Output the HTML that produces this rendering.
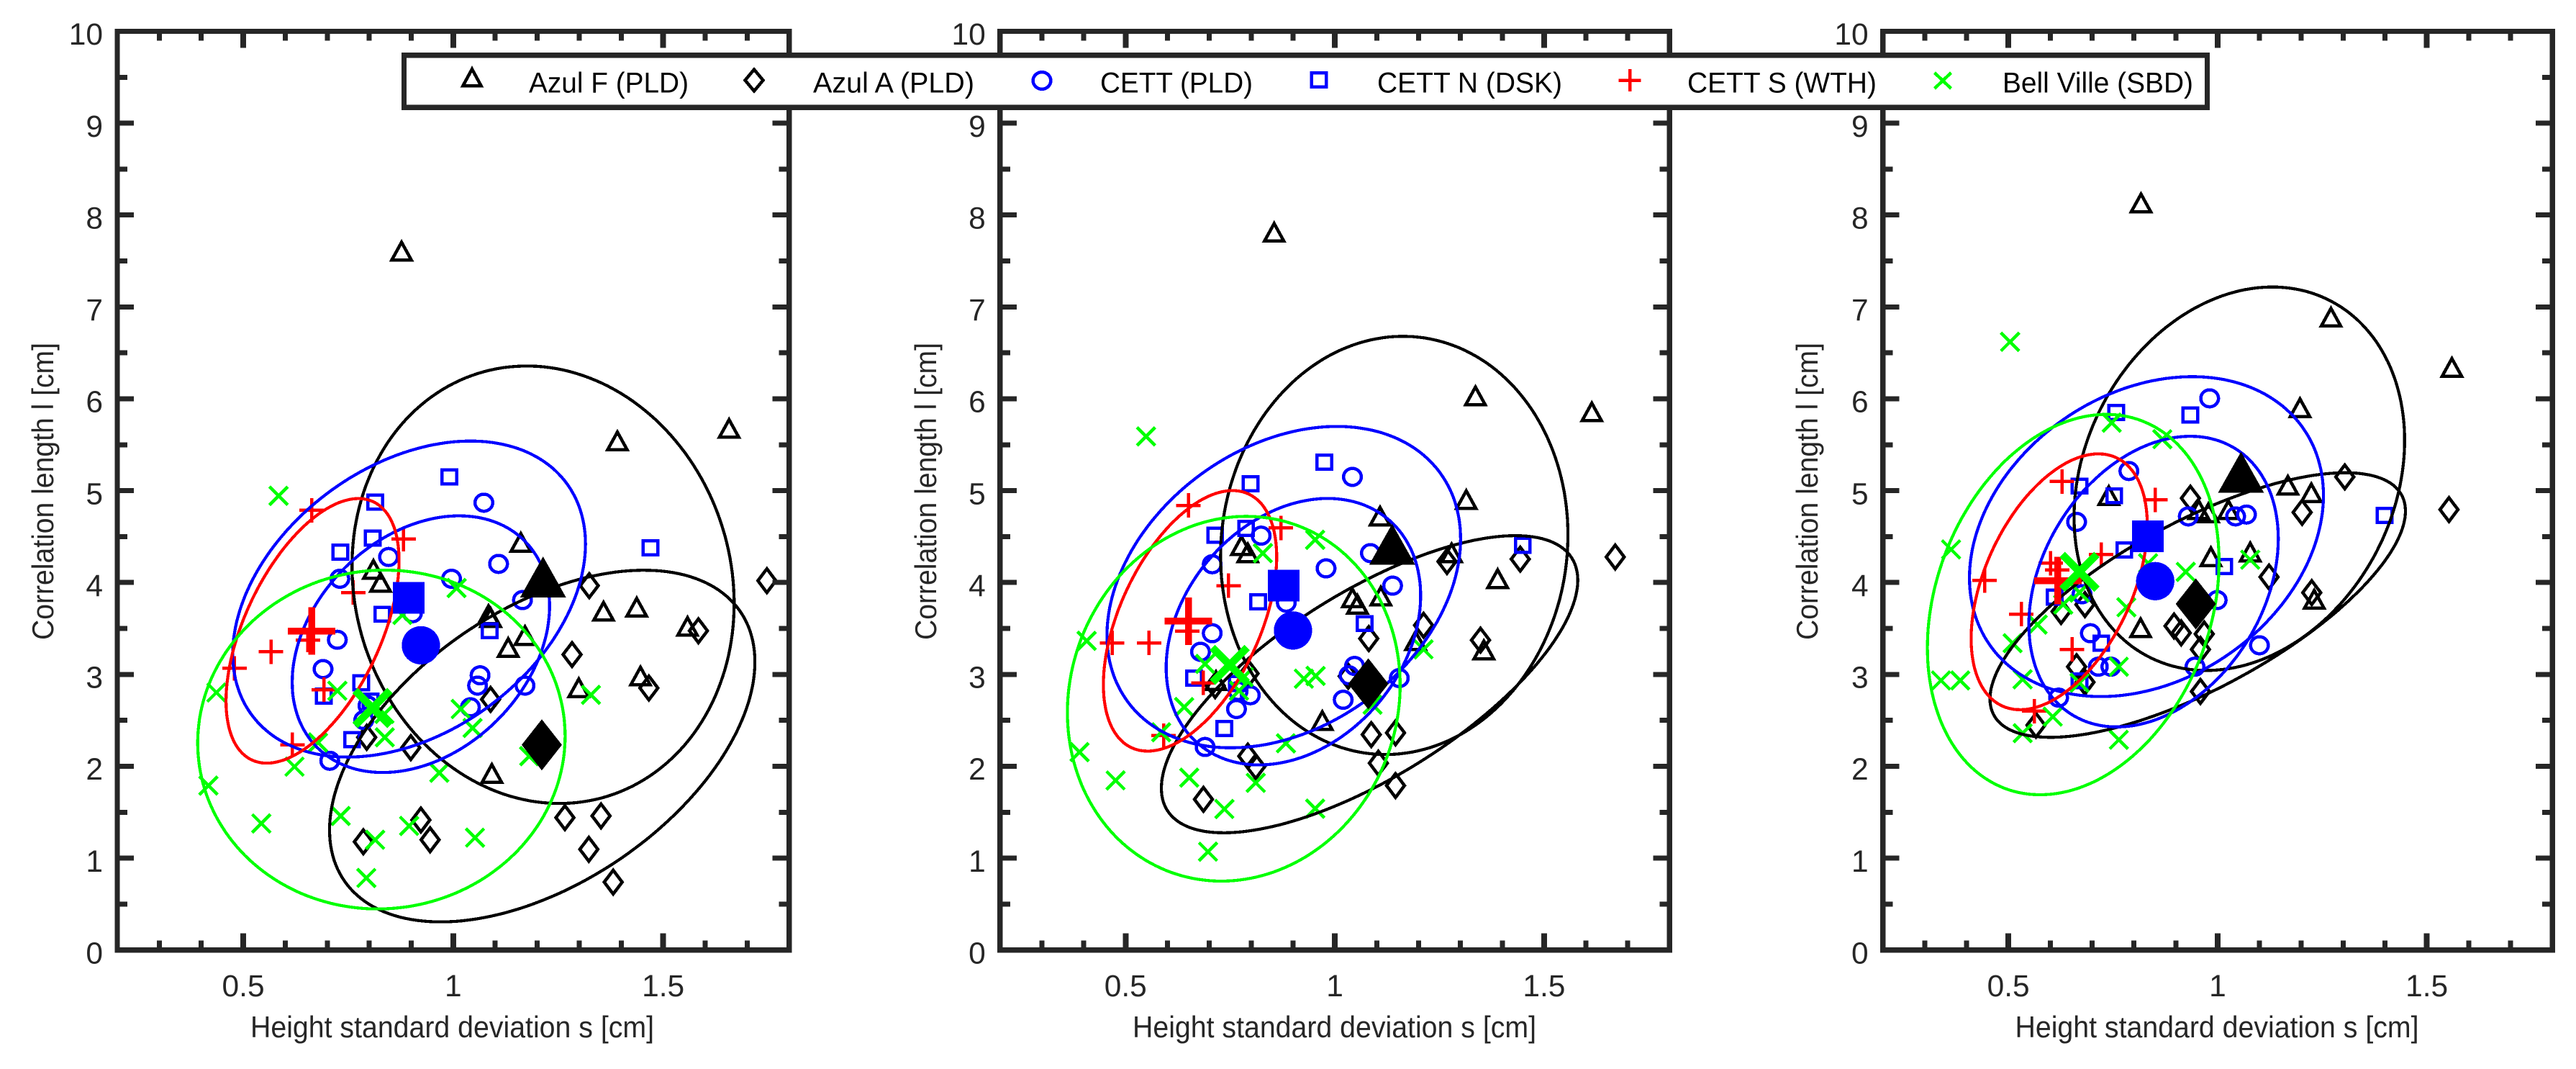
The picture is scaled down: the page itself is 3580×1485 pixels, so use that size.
<!DOCTYPE html>
<html lang="en">
<head>
<meta charset="utf-8">
<title>Correlation length vs height standard deviation</title>
<style>
html,body{margin:0;padding:0;background:#fff;}
svg{display:block;}
text{font-family:"Liberation Sans",sans-serif;}
</style>
</head>
<body>
<svg xmlns="http://www.w3.org/2000/svg" width="3580" height="1485" viewBox="0 0 3580 1485">
<rect x="0" y="0" width="3580" height="1485" fill="#ffffff"/>
<g id="plots"></g>
<g>
  <rect x="561.5" y="76.7" width="2506" height="72.6" fill="#ffffff" stroke="#262626" stroke-width="7.3" shape-rendering="crispEdges"/>
  <g>
    <path d="M0,-12L12.5,11L-12.5,11Z" transform="translate(656,108)" fill="none" stroke="#000" stroke-width="4.5" shape-rendering="crispEdges"/>
    <text x="735" y="128.5" font-size="40" textLength="222" lengthAdjust="spacingAndGlyphs" fill="#000">Azul F (PLD)</text>
  </g>
  <g>
    <path d="M0,-15L12.5,0L0,15L-12.5,0Z" transform="translate(1048,111.5)" fill="none" stroke="#000" stroke-width="4.5" shape-rendering="crispEdges"/>
    <text x="1130" y="128.5" font-size="40" textLength="224" lengthAdjust="spacingAndGlyphs" fill="#000">Azul A (PLD)</text>
  </g>
  <g>
    <ellipse cx="1448" cy="112" rx="12.3" ry="11.8" fill="none" stroke="#0000ff" stroke-width="4.5" shape-rendering="crispEdges"/>
    <text x="1529" y="128.5" font-size="40" textLength="212" lengthAdjust="spacingAndGlyphs" fill="#000">CETT (PLD)</text>
  </g>
  <g>
    <rect x="1822.8" y="101.3" width="20.4" height="19.4" fill="none" stroke="#0000ff" stroke-width="4.5" shape-rendering="crispEdges"/>
    <text x="1914" y="128.5" font-size="40" textLength="257" lengthAdjust="spacingAndGlyphs" fill="#000">CETT N (DSK)</text>
  </g>
  <g>
    <path d="M-15.3,0L15.3,0M0,-15.3L0,15.3" transform="translate(2265,111.5)" fill="none" stroke="#ff0000" stroke-width="4.5" shape-rendering="crispEdges"/>
    <text x="2345" y="128.5" font-size="40" textLength="263" lengthAdjust="spacingAndGlyphs" fill="#000">CETT S (WTH)</text>
  </g>
  <g>
    <path d="M-11.5,-11L11.5,11M-11.5,11L11.5,-11" transform="translate(2700,112)" fill="none" stroke="#00ff00" stroke-width="4.5" shape-rendering="crispEdges"/>
    <text x="2783" y="128.5" font-size="40" textLength="265" lengthAdjust="spacingAndGlyphs" fill="#000">Bell Ville (SBD)</text>
  </g>
</g>
</svg>
<script>
// Axis limits and ticks
const xMin = 0.2;
const xMax = 1.8;
const yMin = 0;
const yMax = 10;
const xMajorTicks = [0.5, 1, 1.5];
const xMajorLabels = ['0.5', '1', '1.5'];
const xMinorTicks = [0.3, 0.4, 0.6, 0.7, 0.8, 0.9, 1.1, 1.2, 1.3, 1.4, 1.6, 1.7];
const yMajorTicks = [0, 1, 2, 3, 4, 5, 6, 7, 8, 9, 10];
const yMajorLabels = ['0', '1', '2', '3', '4', '5', '6', '7', '8', '9', '10'];
const yMinorTicks = [0.5, 1.5, 2.5, 3.5, 4.5, 5.5, 6.5, 7.5, 8.5, 9.5];
const xAxisTitle = 'Height standard deviation s [cm]';
const yAxisTitle = 'Correlation length l [cm]';

// Panel 1 samples: [height std dev, correlation length]
const p1AzulF = [[0.877,7.606],[1.391,5.54],[1.657,5.675],[1.161,4.435],[0.81,4.14],[0.827,4.0],[1.084,3.647],[1.089,3.617],[1.358,3.685],[1.437,3.73],[1.558,3.52],[1.171,3.42],[1.131,3.29],[1.446,2.98],[1.299,2.852],[1.092,1.92]];
const p1AzulA = [[1.747,4.02],[1.324,3.966],[1.584,3.475],[1.283,3.216],[1.466,2.852],[1.089,2.728],[0.794,2.315],[0.899,2.203],[1.266,1.441],[1.352,1.46],[0.923,1.415],[0.945,1.2],[0.786,1.178],[1.323,1.096],[1.381,0.739]];
const p1Cett = [[1.073,4.869],[0.846,4.278],[1.108,4.203],[0.73,4.041],[0.996,4.041],[1.165,3.809],[0.903,3.666],[0.724,3.377],[0.69,3.058],[1.064,2.99],[1.058,2.878],[1.171,2.878],[1.041,2.642],[0.797,2.66],[0.787,2.503],[0.706,2.06]];
const p1CettN = [[0.991,5.15],[0.814,4.876],[0.808,4.484],[0.731,4.33],[1.47,4.379],[0.831,3.655],[1.087,3.475],[0.781,2.908],[0.692,2.765],[0.803,2.709],[0.759,2.289]];
const p1CettS = [[0.663,4.786],[0.882,4.473],[0.762,3.891],[0.566,3.246],[0.479,3.066],[0.654,3.373],[0.692,2.833],[0.617,2.233]];
const p1Bell = [[0.584,4.944],[1.008,3.94],[0.879,3.647],[0.436,2.803],[0.724,2.822],[1.328,2.777],[1.018,2.623],[1.046,2.417],[0.837,2.315],[0.678,2.259],[0.622,1.996],[0.967,1.929],[1.181,2.11],[0.417,1.79],[0.732,1.46],[0.543,1.377],[0.895,1.351],[0.814,1.2],[1.052,1.223],[0.793,0.784],[0.836,2.57]];
// Panel 1 means: triangle, diamond, circle, square, plus, x
const p1Means = [[1.214,4.06],[1.211,2.233],[0.923,3.317],[0.894,3.835],[0.663,3.471],[0.808,2.634]];
// Panel 1 ellipses: [centre x, centre y, half width, half height, correlation]
const p1Ellipses = [[1.214,3.976,0.455,2.381,-0.086],[1.212,2.22,0.5065,1.914,0.478],[0.923,3.329,0.3065,1.397,0.297],[0.895,3.82,0.42,1.72,0.348],[0.665,3.474,0.206,1.44,0.53],[0.829,2.291,0.4375,1.844,0.02]];

// Panel 2 samples
const p2AzulF = [[0.855,7.81],[1.336,6.03],[1.614,5.855],[1.314,4.9],[1.108,4.72],[1.389,4.04],[0.777,4.4],[0.792,4.32],[1.042,3.83],[1.054,3.76],[1.11,3.85],[1.193,3.366],[1.356,3.265],[1.279,4.32],[0.97,2.495],[0.716,2.93]];
const p2AzulA = [[1.67,4.278],[1.443,4.255],[1.268,4.229],[1.212,3.535],[1.081,3.39],[1.348,3.373],[0.795,3.01],[0.714,2.878],[1.032,2.98],[1.087,2.345],[1.145,2.364],[1.104,2.034],[0.792,2.11],[0.811,1.996],[1.145,1.79],[0.686,1.64]];
const p2Cett = [[1.042,5.15],[0.824,4.51],[0.979,4.154],[1.085,4.32],[1.138,3.966],[0.707,4.199],[0.884,3.78],[0.707,3.448],[0.679,3.246],[1.047,3.092],[1.034,2.99],[1.154,2.96],[0.798,2.773],[0.769,2.82],[0.765,2.623],[1.02,2.724],[0.69,2.21]];
const p2CettN = [[0.975,5.31],[0.799,5.075],[0.788,4.588],[0.714,4.515],[1.449,4.405],[0.817,3.79],[1.071,3.553],[0.664,2.96],[0.736,2.41],[0.766,2.9]];
const p2CettS = [[0.65,4.84],[0.871,4.595],[0.746,3.966],[0.468,3.343],[0.556,3.343],[0.647,3.47],[0.686,2.908],[0.591,2.334]];
const p2Bell = [[0.549,5.59],[0.953,4.465],[0.828,4.32],[0.407,3.366],[1.212,3.272],[0.69,3.114],[0.926,2.953],[0.954,2.983],[0.782,2.97],[0.771,2.822],[0.64,2.645],[1.09,2.67],[0.585,2.37],[0.883,2.25],[0.39,2.154],[0.652,1.876],[0.476,1.846],[0.811,1.82],[0.736,1.535],[0.953,1.538],[0.697,1.07]];
const p2Means = [[1.137,4.416],[1.08,2.897],[0.9,3.478],[0.878,3.966],[0.65,3.58],[0.749,3.103]];
const p2Ellipses = [[1.142,4.404,0.415,2.276,0.05],[1.083,2.893,0.4975,1.617,0.7],[0.901,3.465,0.304,1.45,0.27],[0.878,3.95,0.4225,1.749,0.3],[0.654,3.583,0.207,1.418,0.49],[0.7585,2.735,0.3975,1.985,0.075]];

// Panel 3 samples
const p3AzulF = [[0.817,8.13],[1.56,6.34],[1.271,6.886],[1.197,5.9],[1.168,5.056],[1.224,4.974],[0.74,4.944],[0.978,4.756],[1.026,4.79],[0.955,4.79],[0.984,4.278],[1.078,4.33],[1.231,3.816],[0.816,3.505]];
const p3AzulA = [[1.304,5.15],[0.935,4.918],[1.202,4.764],[1.553,4.794],[1.123,4.06],[1.225,3.89],[0.626,3.685],[0.683,3.76],[0.896,3.527],[0.913,3.452],[0.968,3.44],[0.959,3.272],[0.663,3.084],[0.683,2.915],[0.959,2.814],[0.566,2.447]];
const p3Cett = [[0.981,6.005],[0.788,5.214],[0.663,4.66],[0.93,4.72],[1.043,4.72],[1.069,4.74],[0.999,3.809],[0.676,3.872],[0.696,3.448],[0.715,3.084],[0.745,3.084],[0.946,3.084],[1.1,3.317],[0.62,2.747]];
const p3CettN = [[0.758,5.85],[0.935,5.825],[0.67,5.05],[0.753,4.944],[1.399,4.73],[1.016,4.173],[0.777,4.353],[0.611,3.842],[0.722,3.34],[0.67,2.93]];
const p3CettS = [[0.628,5.1],[0.851,4.9],[0.722,4.304],[0.601,4.21],[0.617,4.135],[0.443,4.022],[0.531,3.655],[0.652,3.272],[0.562,2.6]];
const p3Bell = [[0.504,6.62],[0.747,5.74],[0.868,5.56],[0.363,4.36],[0.834,4.21],[0.924,4.116],[0.67,3.891],[1.078,4.248],[0.782,3.73],[0.631,3.76],[0.57,3.542],[0.51,3.34],[0.764,3.084],[0.339,2.934],[0.385,2.934],[0.534,2.946],[0.67,2.908],[0.606,2.54],[0.534,2.36],[0.764,2.289]];
const p3Means = [[1.056,5.2],[0.948,3.767],[0.851,4.015],[0.833,4.505],[0.618,4.02],[0.67,4.116]];
const p3Ellipses = [[1.052,5.13,0.395,2.087,0.2],[0.9525,3.755,0.4965,1.44,0.71],[0.847,4.01,0.298,1.582,0.295],[0.83,4.5,0.423,1.741,0.258],[0.6215,4.008,0.2105,1.3925,0.444],[0.655,3.76,0.3485,2.07,0.227]];

const panelSamples = [
  [p1AzulF, p1AzulA, p1Cett, p1CettN, p1CettS, p1Bell],
  [p2AzulF, p2AzulA, p2Cett, p2CettN, p2CettS, p2Bell],
  [p3AzulF, p3AzulA, p3Cett, p3CettN, p3CettS, p3Bell]
];
const panelMeans = [p1Means, p2Means, p3Means];
const panelEllipses = [p1Ellipses, p2Ellipses, p3Ellipses];
const seriesNames = ['azul-f', 'azul-a', 'cett', 'cett-n', 'cett-s', 'bell-ville'];
const seriesShapes = ['triangle', 'diamond', 'circle', 'square', 'plus', 'x'];
const seriesColors = ['#000000', '#000000', '#0000ff', '#0000ff', '#ff0000', '#00ff00'];

// Layout
const NS = 'http://www.w3.org/2000/svg';
const axesTop = 43.5;
const axesBottom = 1319.7;
const axesLeft = [163, 1389.8, 2616.7];
const axesWidth = [933.7, 930.6, 930.4];
const yTitleBaseline = [74, 1301, 2526];
const xTitleCenter = [628.5, 1854.5, 3081];
const inkColor = '#262626';
const root = document.getElementById('plots');

function xAxis(p, v) { return axesLeft[p] + (v - xMin) / (xMax - xMin) * axesWidth[p]; }
function yAxis(v) { return axesBottom - (v - yMin) / (yMax - yMin) * (axesBottom - axesTop); }

function node(tag, attrs, parent) {
  const el = document.createElementNS(NS, tag);
  for (const k in attrs) el.setAttribute(k, attrs[k]);
  parent.appendChild(el);
  return el;
}

function tick(parent, x1, y1, x2, y2, w, name) {
  const el = node('line', { x1: x1, y1: y1, x2: x2, y2: y2, stroke: inkColor, 'stroke-width': w, 'shape-rendering': 'crispEdges' }, parent);
  
  
}

function smallShapePath(shape) {
  if (shape === 'triangle') return 'M0,-12.5L13.5,12L-13.5,12Z';
  if (shape === 'diamond') return 'M0,-16.5L12.5,0L0,16.5L-12.5,0Z';
  if (shape === 'square') return 'M-10.2,-9.7L10.2,-9.7L10.2,9.7L-10.2,9.7Z';
  if (shape === 'plus') return 'M-17,0L17,0M0,-17L0,17';
  return 'M-12.7,-12.7L12.7,12.7M-12.7,12.7L12.7,-12.7';
}

function bigShapePath(shape) {
  if (shape === 'triangle') return 'M0,-28.5L32,28.5L-32,28.5Z';
  if (shape === 'diamond') return 'M0,-35.5L28,0L0,35.5L-28,0Z';
  if (shape === 'square') return 'M-22,-22L22,-22L22,22L-22,22Z';
  if (shape === 'plus') return 'M-33,0L33,0M0,-33L0,33';
  return 'M-24.2,-24.2L24.2,24.2M-24.2,24.2L24.2,-24.2';
}

function drawSample(parent, p, s, pt) {
  const shape = seriesShapes[s];
  const color = seriesColors[s];
  const cx = xAxis(p, pt[0]);
  const cy = yAxis(pt[1]);
  let el;
  if (shape === 'circle') {
    el = node('ellipse', { cx: cx, cy: cy, rx: 12.3, ry: 11.8, fill: 'none', stroke: color, 'stroke-width': 4.5 }, parent);
  } else {
    el = node('path', { d: smallShapePath(shape), transform: 'translate(' + cx + ',' + cy + ')', fill: 'none', stroke: color, 'stroke-width': 4.5 }, parent);
  }
  
  
}

function drawMean(parent, p, s, pt) {
  const shape = seriesShapes[s];
  const color = seriesColors[s];
  const cx = xAxis(p, pt[0]);
  const cy = yAxis(pt[1]);
  let el;
  if (shape === 'circle') {
    el = node('ellipse', { cx: cx, cy: cy, rx: 26.6, ry: 26.6, fill: color }, parent);
  } else if (shape === 'plus' || shape === 'x') {
    el = node('path', { d: bigShapePath(shape), transform: 'translate(' + cx + ',' + cy + ')', fill: 'none', stroke: color, 'stroke-width': shape === 'x' ? 10.6 : 9.5 }, parent);
  } else {
    el = node('path', { d: bigShapePath(shape), transform: 'translate(' + cx + ',' + cy + ')', fill: color }, parent);
  }
  
  
}

function drawEllipse(parent, p, s, e) {
  const pts = [];
  const rho = e[4];
  const q = Math.sqrt(1 - rho * rho);
  for (let i = 0; i <= 180; i++) {
    const t = i / 180 * 2 * Math.PI;
    const dataX = e[0] + e[2] * Math.cos(t);
    const dataY = e[1] + e[3] * (rho * Math.cos(t) + q * Math.sin(t));
    pts.push(xAxis(p, dataX).toFixed(1) + ',' + yAxis(dataY).toFixed(1));
  }
  const el = node('polygon', { points: pts.join(' '), fill: 'none', stroke: seriesColors[s], 'stroke-width': 4.2 }, parent);
  
  
}

function drawPanel(p) {
  const g = node('g', {}, root);
  
  

  const marks = node('g', { 'shape-rendering': 'crispEdges' }, g);
  
  
  panelSamples[p].forEach(function (series, s) {
    series.forEach(function (pt) { drawSample(marks, p, s, pt); });
  });
  panelEllipses[p].forEach(function (e, s) { drawEllipse(marks, p, s, e); });
  panelMeans[p].forEach(function (pt, s) { drawMean(marks, p, s, pt); });

  const left = axesLeft[p];
  const right = left + axesWidth[p];

  xMajorTicks.forEach(function (v, i) {
    const x = xAxis(p, v);
    tick(g, x, axesBottom, x, axesBottom - 23, 8, 'x-major-tick');
    tick(g, x, axesTop, x, axesTop + 23, 8, 'x-major-tick');
    const label = node('text', { x: x, y: 1384, 'font-size': 42.5, 'text-anchor': 'middle', fill: inkColor }, g);
    label.textContent = xMajorLabels[i];
    
    
  });
  xMinorTicks.forEach(function (v) {
    const x = xAxis(p, v);
    tick(g, x, axesBottom, x, axesBottom - 13, 7, 'x-minor-tick');
    tick(g, x, axesTop, x, axesTop + 13, 7, 'x-minor-tick');
  });
  yMajorTicks.forEach(function (v, i) {
    const y = yAxis(v);
    tick(g, left, y, left + 23, y, 7, 'y-major-tick');
    tick(g, right, y, right - 23, y, 7, 'y-major-tick');
    const label = node('text', { x: left - 20, y: y + 18.7, 'font-size': 42.5, 'text-anchor': 'end', fill: inkColor }, g);
    label.textContent = yMajorLabels[i];
    
    
  });
  yMinorTicks.forEach(function (v) {
    const y = yAxis(v);
    tick(g, left, y, left + 14, y, 7, 'y-minor-tick');
    tick(g, right, y, right - 14, y, 7, 'y-minor-tick');
  });

  const frame = node('rect', { x: left, y: axesTop, width: axesWidth[p], height: axesBottom - axesTop, fill: 'none', stroke: inkColor, 'stroke-width': 7.4, 'shape-rendering': 'crispEdges' }, g);
  
  

  const xTitle = node('text', { x: xTitleCenter[p], y: 1441, 'font-size': 42, 'text-anchor': 'middle', fill: inkColor, textLength: 561, lengthAdjust: 'spacingAndGlyphs' }, g);
  xTitle.textContent = xAxisTitle;
  
  

  const yTitle = node('text', { transform: 'translate(' + yTitleBaseline[p] + ',682.5) rotate(-90)', x: 0, y: 0, 'font-size': 42, 'text-anchor': 'middle', fill: inkColor, textLength: 413, lengthAdjust: 'spacingAndGlyphs' }, g);
  yTitle.textContent = yAxisTitle;
  
  
}

[0, 1, 2].forEach(drawPanel);
</script>
</body>
</html>
